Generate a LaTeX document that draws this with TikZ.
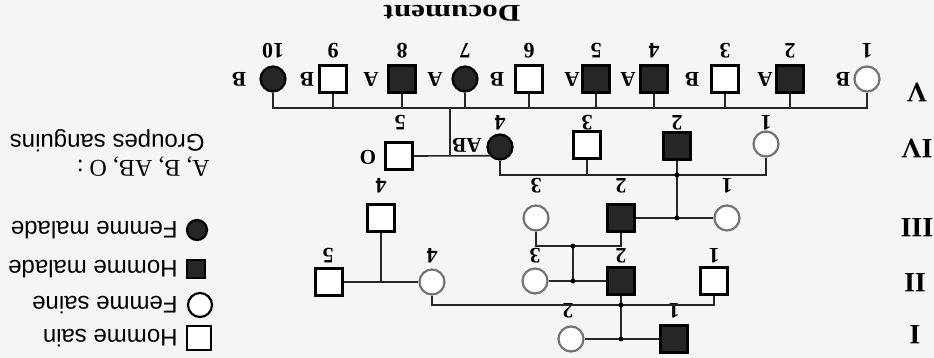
\documentclass[tikz,border=0pt]{standalone}
\usepackage{fontspec}
\setmainfont{Liberation Serif}
\newfontfamily\legendfont{Liberation Sans}

\tikzset{
  homme/.style={draw, line width=1.3pt, rectangle, minimum size=13.5pt, inner sep=0pt, fill=white},
  femme/.style={draw=black!55, line width=1.1pt, circle, minimum size=12.5pt, inner sep=0pt, fill=white},
  hommeM/.style={homme, fill=black!85},
  femmeM/.style={femme, draw=black, fill=black!85},
  num/.style={rotate=180, inner sep=0pt, font=\fontsize{11}{12}\selectfont\bfseries},
  grp/.style={rotate=180, inner sep=0pt, font=\fontsize{10.5}{11}\selectfont\bfseries},
  gen/.style={rotate=180, inner sep=0pt, font=\fontsize{14}{15}\selectfont\bfseries},
  leg/.style={rotate=180, anchor=west, inner sep=0pt, font=\fontsize{12}{13}\selectfont\legendfont},
  lien/.style={line width=0.8pt, black!85}
}

\begin{document}
\begin{tikzpicture}[x=0.5pt, y=-0.5pt]
  \fill[black!4] (0,0) rectangle (934,358);
  \useasboundingbox (0,0) rectangle (934,358);

  % title and generations
  \node[rotate=180, xscale=1.3, font=\fontsize{12}{13}\selectfont\bfseries] (titre) at (452,13) {Document};
  \node[gen] (gV)   at (917,92)  {V};
  \node[gen] (gIV)  at (917,148) {IV};
  \node[gen] (gIII) at (917,228) {III};
  \node[gen] (gII)  at (915,283) {II};
  \node[gen] (gI)   at (915,335) {I};

  % generation I
  \node[hommeM] (I1) at (674,339) {};
  \node[femme]  (I2) at (571,339) {};
  \node[num] at (674,311) {1};
  \node[num] at (568,311) {2};

  % generation II
  \node[homme]  (II1) at (714,281) {};
  \node[hommeM] (II2) at (621,281) {};
  \node[femme]  (II3) at (535,281) {};
  \node[femme]  (II4) at (432,282) {};
  \node[homme]  (II5) at (329,282) {};
  \foreach \n/\x in {1/714, 2/621, 3/535, 4/432, 5/328}
    \node[num] at (\x,256) {\n};

  % generation III
  \node[femme]  (III1) at (727,218) {};
  \node[hommeM] (III2) at (621,218) {};
  \node[femme]  (III3) at (536,218) {};
  \node[homme]  (III4) at (381,218) {};
  \foreach \n/\x in {1/727, 2/621, 3/536, 4/381}
    \node[num] at (\x,186) {\n};

  % generation IV
  \node[femme]  (IV1) at (766,144) {};
  \node[hommeM] (IV2) at (677,146) {};
  \node[homme]  (IV3) at (587,145) {};
  \node[femmeM] (IV4) at (500,147) {};
  \node[homme]  (IV5) at (399,156) {};
  \foreach \n/\x in {1/766, 2/677, 3/587, 4/500, 5/400}
    \node[num] at (\x,123) {\n};
  \node[grp] at (467,145) {AB};
  \node[grp] at (368,157) {O};

  % generation V
  \foreach \n/\x/\t/\g/\gx in {1/867/femme/B/843, 2/790/hommeM/A/765, 3/725/homme/B/692,
      4/654/hommeM/A/628, 5/596/hommeM/A/572, 6/529/homme/B/497, 7/465/femmeM/A/435,
      8/402/hommeM/A/371, 9/333/homme/B/307, 10/273/femmeM/B/239} {
    \node[\t] (V\n) at (\x,79) {};
    \node[num] at (\x,51) {\n};
    \node[grp] at (\gx,79) {\g};
  }

  % junctions
  \coordinate (m1) at (621,339);
  \coordinate (s2) at (621,305);
  \coordinate (m2) at (573,281);
  \coordinate (s3) at (573,246);
  \coordinate (m3) at (381,282);
  \coordinate (m4) at (677,218);
  \coordinate (s4) at (677,175);
  \coordinate (m5) at (450,155);
  \coordinate (s5) at (450,108);

  \draw[lien] (I2) -- (I1);
  \draw[lien] (II2) -- (m1);
  \draw[lien] (II1.south) |- (s2) -| (II4.south);
  \draw[lien] (II3) -- (II2);
  \draw[lien] (m2) -- (s3);
  \draw[lien] (III3.south) |- (s3) -| (III2.south);
  \draw[lien] (II5) -- (II4);
  \draw[lien] (m3) -- (III4);
  \draw[lien] (III2) -- (III1);
  \draw[lien] (m4) -- (IV2);
  \draw[lien] (IV1.south) |- (s4) -| (IV4.south);
  \draw[lien] (IV3) -- (IV3 |- s4);
  \draw[lien] (IV5.east) -- (IV4.220);
  \draw[lien] (m5) -- (s5);
  \draw[lien] (V1.south) |- (s5) -| (V10.south);
  \foreach \n in {2,...,9}
    \draw[lien] (V\n) -- (V\n |- s5);
  \foreach \c in {m1, s2, m2, s3, m4, s4}
    \fill (\c) circle (1.2pt);

  % legend
  \node[homme, minimum size=12pt]  (L1) at (199,338) {};
  \node[femme, draw=black, minimum size=12pt] (L2) at (200,305) {};
  \node[hommeM, minimum size=9pt]  (L3) at (196,269) {};
  \node[femmeM, minimum size=10pt] (L4) at (197,230) {};
  \node[leg] at (178,338) {Homme sain};
  \node[leg] at (178,305) {Femme saine};
  \node[leg] at (178,269) {Homme malade};
  \node[leg] at (178,230) {Femme malade};
  \node[leg, font=\fontsize{12}{13}\selectfont] at (210,167) {A, B, AB, O :};
  \node[leg] at (205,141) {Groupes sanguins};
\end{tikzpicture}
\end{document}
